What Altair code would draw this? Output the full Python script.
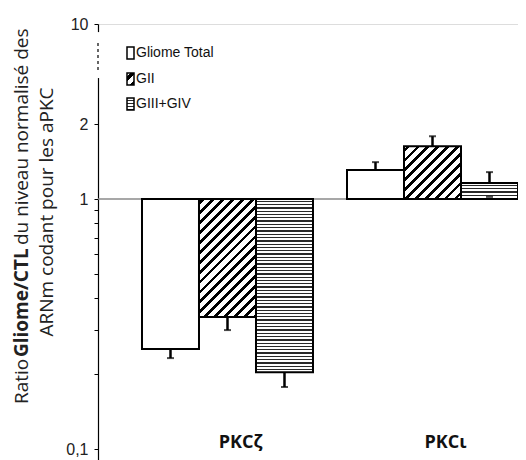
import math
import altair as alt
import pandas as pd

# ---------------- data ----------------
categories = ["PKCζ", "PKCι"]
series = ["Gliome Total", "GII", "GIII+GIV"]
values_zeta = [0.251, 0.337, 0.203]
values_iota = [1.306, 1.63, 1.159]
err_zeta = [0.231, 0.299, 0.177]
err_iota = [1.406, 1.786, 1.282]
inner_cap_iota = [None, None, 1.02]

tick_values = [0.1, 0.2, 0.3, 0.4, 0.5, 0.6, 0.7, 0.8, 0.9, 1, 2, 10]
axis_break_white = [4.19, 8.78]
axis_break_dash = [4.77, 7.49]

# ---------------- layout ----------------
W, H = 420, 436
y_domain = [0.0933, 0.1, 1, 2, 10]
y_range = [436, 425, 175, 100, 0]


def ypix(v):
    lv = math.log10(v)
    for i in range(len(y_domain) - 1):
        a, b = math.log10(y_domain[i]), math.log10(y_domain[i + 1])
        if a <= lv <= b or i == len(y_domain) - 2:
            t = (lv - a) / (b - a)
            return y_range[i] + t * (y_range[i + 1] - y_range[i])


def grad_diag(w, h, p=7.0, frac=0.38, color="black"):
    n = (w + h) / (math.sqrt(2) * p)
    c = (w + h) / (w * w + h * h)
    stops = [{"offset": 0, "color": "white"}]
    i = 0
    while True:
        s = (i + 0.3) / n
        e = (i + 0.3 + frac) / n
        if s >= 1:
            break
        e = min(e, 1)
        stops += [{"offset": s, "color": "white"}, {"offset": s, "color": color},
                  {"offset": e, "color": color}, {"offset": e, "color": "white"}]
        i += 1
    return {"gradient": "linear", "x1": 0, "y1": 0, "x2": c * w, "y2": c * h, "stops": stops}


def grad_horiz(h, p=3.3, frac=0.38, color="#2a2a2a"):
    n = h / p
    stops = [{"offset": 0, "color": "white"}]
    i = 0
    while True:
        s = (i + 0.5) / n
        e = (i + 0.5 + frac) / n
        if s >= 1:
            break
        e = min(e, 1)
        stops += [{"offset": s, "color": "white"}, {"offset": s, "color": color},
                  {"offset": e, "color": color}, {"offset": e, "color": "white"}]
        i += 1
    return {"gradient": "linear", "x1": 0, "y1": 0, "x2": 0, "y2": 1, "stops": stops}


rows = []
for cat, vals, errs, inner in [(categories[0], values_zeta, err_zeta, [None] * 3),
                               (categories[1], values_iota, err_iota, inner_cap_iota)]:
    for s, v, e, ic in zip(series, vals, errs, inner):
        rows.append({"cat": cat, "series": s, "value": v, "err": e, "inner": ic})
df = pd.DataFrame(rows)

bar_w = 57.0

x_enc = alt.X("cat:N", sort=categories,
              scale=alt.Scale(paddingInner=0.1659, paddingOuter=0.1073, align=1),
              axis=None)
xo_enc = alt.XOffset("series:N", sort=series, scale=alt.Scale(paddingInner=0, paddingOuter=0))
y_scale = alt.Scale(type="log", domain=y_domain, range=y_range, nice=False, zero=False)

label_expr = ("datum.value == 0.1 ? '0,1' : datum.value == 1 ? '1' : "
              "datum.value == 2 ? '2' : datum.value == 10 ? '10' : ''")
y_axis = alt.Axis(values=tick_values, labelExpr=label_expr, title=None, grid=False,
                  tickSize=4, tickColor="black", domainColor="black", domainWidth=1.2,
                  tickWidth=1, labelFont="Liberation Sans", labelFontSize=16, labelColor="#222",
                  labelPadding=6, labelOverlap=False, labelBaseline="middle", labelFlush=False)


def Y(field):
    return alt.Y(field, scale=y_scale, axis=y_axis)


base = alt.Chart(df)

baseline = alt.Chart(pd.DataFrame({"v": [1]})).mark_rule(
    color="#8a8a8a", strokeWidth=1.5).encode(y=Y("v:Q"))

layers = [baseline]

for _, r in df.iterrows():
    h = abs(ypix(r["value"]) - ypix(1))
    if r["series"] == "Gliome Total":
        fill = "white"
    elif r["series"] == "GII":
        fill = grad_diag(bar_w, h)
    else:
        fill = grad_horiz(h)
    layer = base.transform_filter(
        (alt.datum.cat == r["cat"]) & (alt.datum.series == r["series"])
    ).mark_bar(fill=fill, stroke="black", strokeWidth=2).encode(
        x=x_enc, xOffset=xo_enc,
        y=Y("value:Q"),
        y2=alt.Y2(datum=1),
    )
    layers.append(layer)

err_rule = base.mark_rule(color="black", strokeWidth=2.5).encode(
    x=x_enc, xOffset=xo_enc, y=Y("value:Q"), y2="err:Q")
err_cap = base.mark_tick(color="black", thickness=2, size=7, orient="horizontal").encode(
    x=x_enc, xOffset=xo_enc, y=Y("err:Q"))
inner_cap = base.transform_filter("isValid(datum.inner)").mark_tick(
    color="black", thickness=2, size=7, orient="horizontal").encode(
    x=x_enc, xOffset=xo_enc, y=Y("inner:Q"))
layers += [err_rule, err_cap, inner_cap]

# axis break
brk_df = pd.DataFrame({"a": [axis_break_white[0]], "b": [axis_break_white[1]]})
layers.append(alt.Chart(brk_df).mark_rule(color="white", strokeWidth=4).encode(
    x=alt.value(0), y=Y("a:Q"), y2="b:Q"))
brk_df2 = pd.DataFrame({"a": [axis_break_dash[0]], "b": [axis_break_dash[1]]})
layers.append(alt.Chart(brk_df2).mark_rule(color="black", strokeWidth=1.2, strokeDash=[3, 3]).encode(
    x=alt.value(0), y=Y("a:Q"), y2="b:Q"))

# category labels
cat_df = pd.DataFrame({"cat": categories, "v": [0.1, 0.1]})
layers.append(alt.Chart(cat_df).mark_text(
    font="Open Sans", fontWeight="bold", fontSize=18, color="#111",
    baseline="alphabetic", align="center", dx=13, dy=-1).encode(
    x=x_enc, y=Y("v:Q"), text="cat:N"))

one = pd.DataFrame({"k": [0]})

# y title (mixed weight)
title_font = "Open Sans"
title_size = 19
layers.append(alt.Chart(one).mark_text(
    text="Ratio", font=title_font, fontSize=title_size, angle=270, align="left",
    baseline="middle", color="#222").encode(x=alt.value(-76), y=alt.value(380)))
layers.append(alt.Chart(one).mark_text(
    text="Gliome/CTL", font=title_font, fontSize=title_size, fontWeight="bold", angle=270,
    align="left", baseline="middle", color="#222").encode(x=alt.value(-76), y=alt.value(333)))
layers.append(alt.Chart(one).mark_text(
    text="du niveau normalisé des", font=title_font, fontSize=title_size, angle=270,
    align="left", baseline="middle", color="#222").encode(x=alt.value(-76), y=alt.value(221)))
layers.append(alt.Chart(one).mark_text(
    text="ARNm codant pour les aPKC", font=title_font, fontSize=title_size, angle=270,
    align="center", baseline="middle", color="#222").encode(x=alt.value(-51), y=alt.value(188)))

# legend
leg_y = [29, 55, 80]
leg_fills = ["white", grad_diag(7, 12, p=8, frac=0.45), grad_horiz(12, p=3.0, frac=0.4)]
for name, yy, f in zip(series, leg_y, leg_fills):
    layers.append(alt.Chart(one).mark_rect(fill=f, stroke="black", strokeWidth=1.5).encode(
        x=alt.value(29), x2=alt.value(36), y=alt.value(yy - 6), y2=alt.value(yy + 6)))
    layers.append(alt.Chart(one).mark_text(
        text=name, font="Liberation Sans", fontSize=14, align="left", baseline="middle",
        color="#111").encode(x=alt.value(38), y=alt.value(yy)))

chart = alt.layer(*layers).properties(
    width=W, height=H,
    autosize=alt.AutoSizeParams(type="none"),
    padding={"left": 90, "top": 16, "right": 0, "bottom": 0},
).configure_view(stroke=None).configure(background="white")

chart.save("out.html", embed_options={"renderer": "svg", "actions": False})
